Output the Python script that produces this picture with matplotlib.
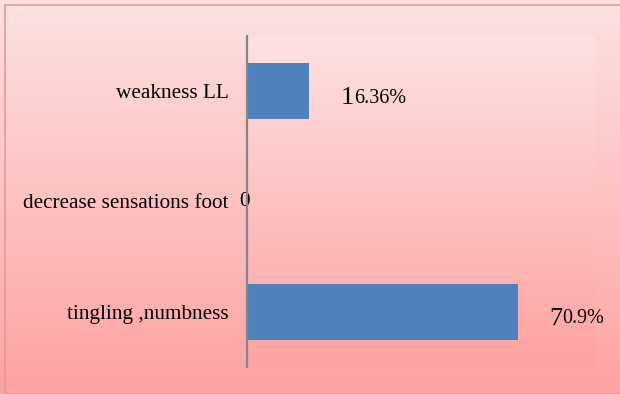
import numpy as np
import matplotlib
matplotlib.use("Agg")
import matplotlib.pyplot as plt
from matplotlib.colors import LinearSegmentedColormap
from matplotlib.patches import Rectangle

categories = ["tingling ,numbness", "decrease sensations foot", "weakness LL"]
values = [70.9, 0, 16.36]
value_labels = ["70.9%", "0", "16.36%"]

W, H, DPI = 620, 394, 100
fig = plt.figure(figsize=(W / DPI, H / DPI), dpi=DPI)

grad = LinearSegmentedColormap.from_list("pinkfade", ["#fde2e2", "#ffa2a2"])
ramp = np.linspace(0, 1, 256).reshape(-1, 1)

# figure background gradient
bg = fig.add_axes([0, 0, 1, 1], zorder=-10)
bg.imshow(ramp, aspect="auto", cmap=grad, extent=[0, 1, 0, 1], origin="upper")
bg.set_axis_off()
fig.add_artist(Rectangle((4.5 / W, 0), 1, 1 - 4.5 / H, transform=fig.transFigure,
                         fill=False, edgecolor="#e39a9a", linewidth=1.2))

left, right, top, bottom = 247, 596, 36, 367
ax = fig.add_axes([left / W, 1 - bottom / H, (right - left) / W, (bottom - top) / H])
ax.imshow(ramp, aspect="auto", cmap=grad, extent=[0, 1, 0, 1], origin="upper",
          transform=ax.transAxes, zorder=0)

y = np.arange(len(categories))
ax.barh(y, values, height=0.51, color="#4f81bd", zorder=2)
ax.set_xlim(0, 91.4)
ax.set_ylim(-0.5, len(categories) - 0.5)

serif = "Liberation Serif"
for s in ["top", "right", "bottom"]:
    ax.spines[s].set_visible(False)
ax.spines["left"].set_color("#868686")
ax.spines["left"].set_linewidth(1.6)
ax.spines["left"].set_zorder(3)
ax.set_xticks([])
ax.set_yticks(y)
ax.set_yticklabels(categories, fontfamily=serif, fontsize=15.3)
ax.tick_params(axis="y", length=0, pad=13.5)

for yi, v, lab in zip(y, values, value_labels):
    if v == 0:
        ax.text(v - 0.65, yi, lab, fontfamily=serif, fontsize=15.3, ha="center",
                va="center", zorder=1, clip_on=False)
        continue
    first = ax.annotate(lab[0], xy=(v, yi), xytext=(22.5, -5), textcoords="offset points",
                        fontfamily=serif, fontsize=19, ha="left", va="center")
    ax.annotate(lab[1:], xy=(1, 0.07), xycoords=first, xytext=(0, 0),
                textcoords="offset points", fontfamily=serif, fontsize=14.5,
                ha="left", va="bottom")

fig.savefig("out.png", dpi=DPI)
